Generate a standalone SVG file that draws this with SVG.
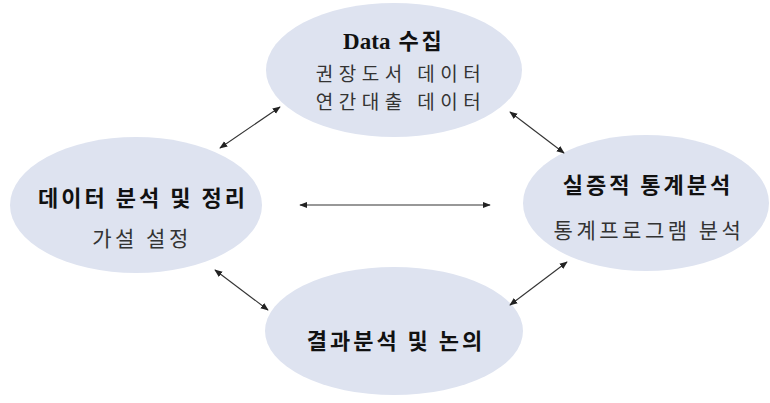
<svg xmlns="http://www.w3.org/2000/svg" width="770" height="403" viewBox="0 0 770 403">
<defs>
<style>
.node ellipse{fill:#dee3f0;stroke:none}
.t{font-family:"Noto Sans CJK KR","Noto Sans",sans-serif;text-anchor:middle;fill:#111}
.b{font-weight:bold;font-size:22px;letter-spacing:3px}
.r{font-size:21px;letter-spacing:3.5px;fill:#333}
.s{font-size:19px;letter-spacing:5.5px}
.d{font-family:"Liberation Serif","Noto Sans CJK KR",serif;letter-spacing:0}
.c line{stroke:#333;stroke-width:1.1;marker-start:url(#ah);marker-end:url(#ah)}
</style>
<marker id="ah" viewBox="0 0 10 10" refX="9" refY="5" markerWidth="8" markerHeight="8" markerUnits="userSpaceOnUse" orient="auto-start-reverse">
<path d="M0,1 L10,5 L0,9 Z" fill="#222"/>
</marker>
</defs>
<rect width="770" height="403" fill="#fff"/>
<g id="n-data" class="node">
<ellipse cx="394" cy="70" rx="128" ry="67"/>
<text class="t b" x="394" y="49"><tspan class="d" font-size="23">Data</tspan> 수집</text>
<text class="t r s" x="401" y="81">권장도서 데이터</text>
<text class="t r s" x="401" y="109">연간대출 데이터</text>
</g>
<g id="n-analysis" class="node">
<ellipse cx="136" cy="205" rx="126" ry="68"/>
<text class="t b" x="143" y="206">데이터 분석 및 정리</text>
<text class="t r" x="142" y="246">가설 설정</text>
</g>
<g id="n-stat" class="node">
<ellipse cx="646" cy="203" rx="123" ry="68"/>
<text class="t b" x="648" y="193">실증적 통계분석</text>
<text class="t r" x="649" y="238">통계프로그램 분석</text>
</g>
<g id="n-result" class="node">
<ellipse cx="394" cy="331" rx="129" ry="64"/>
<text class="t b" x="396" y="349">결과분석 및 논의</text>
</g>
<g id="connectors" class="c">
<line x1="220" y1="148" x2="280" y2="107"/>
<line x1="510" y1="112" x2="564" y2="153"/>
<line x1="300" y1="205" x2="490" y2="205"/>
<line x1="215" y1="270" x2="268" y2="310"/>
<line x1="567" y1="262" x2="510" y2="305"/>
</g>
</svg>
